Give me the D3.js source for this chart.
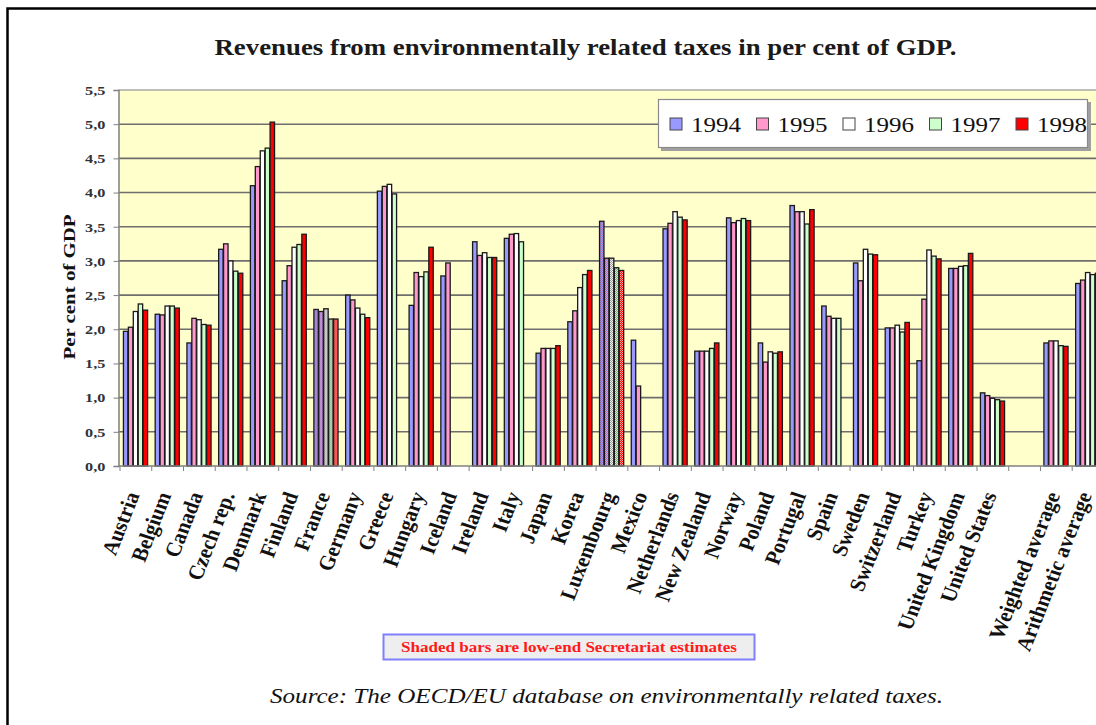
<!DOCTYPE html>
<html>
<head>
<meta charset="utf-8">
<script src="https://cdn.jsdelivr.net/npm/d3@7/dist/d3.min.js"></script>
<style>
  html, body { margin: 0; padding: 0; background: #ffffff; }
  svg { display: block; }
  text { font-family: "Liberation Serif", "Times New Roman", serif; }
</style>
</head>
<body>
<svg id="chart" width="1096" height="725"></svg>
<script>
// ---- data ----
const categories = ["Austria", "Belgium", "Canada", "Czech rep.", "Denmark", "Finland", "France",
  "Germany", "Greece", "Hungary", "Iceland", "Ireland", "Italy", "Japan", "Korea", "Luxembourg",
  "Mexico", "Netherlands", "New Zealand", "Norway", "Poland", "Portugal", "Spain", "Sweden",
  "Switzerland", "Turkey", "United Kingdom", "United States", "", "Weighted average", "Arithmetic average"];

const years = ["1994", "1995", "1996", "1997", "1998"];

const v1994 = [1.97, 2.22, 1.80, 3.17, 4.10, 2.71, 2.29, 2.50, 4.02, 2.35, 2.78, 3.28, 3.33, 1.65, 2.11, 3.58,
  1.84, 3.47, 1.68, 3.63, 1.80, 3.81, 2.34, 2.97, 2.02, 1.54, 2.89, 1.07, null, 1.80, 2.67];
const v1995 = [2.03, 2.21, 2.16, 3.25, 4.38, 2.93, 2.26, 2.43, 4.09, 2.83, 2.97, 3.08, 3.39, 1.72, 2.27, 3.04,
  1.17, 3.55, 1.68, 3.56, 1.52, 3.72, 2.19, 2.71, 2.02, 2.44, 2.89, 1.03, null, 1.83, 2.72];
const v1996 = [2.26, 2.34, 2.14, 3.00, 4.61, 3.20, 2.30, 2.31, 4.12, 2.77, null, 3.12, 3.40, 1.72, 2.61, 3.04,
  null, 3.72, 1.68, 3.59, 1.67, 3.72, 2.16, 3.17, 2.06, 3.16, 2.92, 0.99, null, 1.83, 2.83];
const v1997 = [2.37, 2.34, 2.07, 2.85, 4.65, 3.24, 2.15, 2.22, 3.98, 2.84, null, 3.05, 3.28, 1.72, 2.80, 2.90,
  null, 3.64, 1.72, 3.62, 1.65, 3.54, 2.16, 3.10, 1.96, 3.07, 2.93, 0.97, null, 1.76, 2.80];
const v1998 = [2.28, 2.31, 2.06, 2.82, 5.03, 3.39, 2.15, 2.17, null, 3.20, null, 3.05, null, 1.76, 2.86, 2.86,
  null, 3.60, 1.80, 3.59, 1.67, 3.75, null, 3.09, 2.10, 3.03, 3.11, 0.95, null, 1.75, 2.82];

const seriesValues = [v1994, v1995, v1996, v1997, v1998];
const seriesColors = ["#9999ff", "#ff99cc", "#ffffff", "#ccffcc", "#ff0000"];
const shadeDotColors = ["#b070b0", "#8080e0", "#909090", "#7f9a7f", "#ffaaaa"];

// countries whose bars are low-end estimates (drawn shaded)
const shadedCategories = ["France", "Luxembourg"];

const yTickValues = [0, 0.5, 1, 1.5, 2, 2.5, 3, 3.5, 4, 4.5, 5, 5.5];

const titleText = "Revenues from environmentally related taxes in per cent of GDP.";
const yTitleText = "Per cent of GDP";
const noteText = "Shaded bars are low-end Secretariat estimates";
const sourceText = "Source: The OECD/EU database on environmentally related taxes.";

// ---- layout ----
const serif = "Liberation Serif";
const plotLeft = 118.5, plotTop = 90, plotBottom = 466;
const bandStep = 31.74;
const plotRight = plotLeft + 1.5 + categories.length * bandStep;

const svg = d3.select("#chart");
const defs = svg.append("defs");

// dotted fills for the estimated bars
seriesColors.forEach((c, i) => {
  const p = defs.append("pattern")
    .attr("id", "shade" + i)
    .attr("patternUnits", "userSpaceOnUse")
    .attr("width", 2).attr("height", 2);
  p.append("rect").attr("width", 2).attr("height", 2).attr("fill", c);
  p.append("rect").attr("x", 0).attr("y", 0).attr("width", 1).attr("height", 1).attr("fill", shadeDotColors[i]);
  p.append("rect").attr("x", 1).attr("y", 1).attr("width", 1).attr("height", 1).attr("fill", shadeDotColors[i]);
});

// outer frame
svg.append("rect")
  .attr("x", 7.5).attr("y", 8.5)
  .attr("width", 1120).attr("height", 740)
  .attr("fill", "none").attr("stroke", "#000").attr("stroke-width", 2.5);

// scales
const x0 = d3.scaleBand().domain(categories).range([plotLeft + 1.5, plotLeft + 1.5 + categories.length * bandStep]).padding(0);
const x1 = d3.scaleBand().domain(years).range([0, x0.bandwidth()]).paddingInner(0).paddingOuter(0.72).align(0.4);
const y = d3.scaleLinear().domain([0, 5.5]).range([plotBottom, plotTop]);

// plot background
svg.append("rect")
  .attr("x", plotLeft).attr("y", plotTop)
  .attr("width", plotRight - plotLeft).attr("height", plotBottom - plotTop)
  .attr("fill", "#ffffcc");

// horizontal gridlines
svg.append("g")
  .selectAll("line")
  .data(yTickValues.filter(d => d > 0))
  .join("line")
  .attr("x1", plotLeft).attr("x2", plotRight)
  .attr("y1", d => y(d)).attr("y2", d => y(d))
  .attr("stroke", d => d === 5.5 ? "#a8a8a8" : "#6e6e6e")
  .attr("stroke-width", 1.6);

// bars
const groups = svg.append("g")
  .selectAll("g")
  .data(categories)
  .join("g")
  .attr("transform", c => `translate(${x0(c)},0)`);

groups.selectAll("rect")
  .data((c, ci) => years.map((yr, si) => ({ cat: c, year: yr, si, value: seriesValues[si][ci] }))
    .filter(d => d.value !== null))
  .join("rect")
  .attr("x", d => x1(d.year) + 0.6)
  .attr("y", d => y(d.value))
  .attr("width", x1.bandwidth() - 0.5)
  .attr("height", d => y(0) - y(d.value))
  .attr("fill", d => shadedCategories.includes(d.cat) ? `url(#shade${d.si})` : seriesColors[d.si])
  .attr("stroke", "#1a1a1a")
  .attr("stroke-width", 1.3);

// y axis
const fmt = d => d3.format(".1f")(d).replace(".", ",");
const yAxis = svg.append("g")
  .attr("transform", `translate(${plotLeft},0)`)
  .call(d3.axisLeft(y).tickValues(yTickValues).tickFormat(fmt).tickSize(5).tickPadding(6));
yAxis.select(".domain").attr("stroke", "#808080").attr("stroke-width", 1.5);
yAxis.selectAll(".tick line").attr("stroke", "#808080");
yAxis.selectAll(".tick text")
  .attr("font-family", serif)
  .attr("font-size", 13.5)
  .attr("font-weight", "bold")
  .attr("fill", "#333")
  .attr("transform", "scale(1.2,1)");

// x axis line and boundary ticks
svg.append("line")
  .attr("x1", plotLeft).attr("x2", plotRight)
  .attr("y1", plotBottom).attr("y2", plotBottom)
  .attr("stroke", "#808080").attr("stroke-width", 1.5);
svg.append("g")
  .selectAll("line")
  .data(categories)
  .join("line")
  .attr("x1", c => x0(c)).attr("x2", c => x0(c))
  .attr("y1", plotBottom).attr("y2", plotBottom + 5)
  .attr("stroke", "#808080");

// category labels
svg.append("g")
  .selectAll("text")
  .data(categories)
  .join("text")
  .attr("transform", c => `translate(${x0(c) + x0.bandwidth() / 2 + 4},${plotBottom + 29}) scale(1.2,1.1) rotate(-70)`)
  .attr("text-anchor", "end")
  .attr("font-family", serif)
  .attr("font-size", 18.5)
  .attr("font-weight", "bold")
  .attr("fill", "#111")
  .text(c => c);

// y axis title
svg.append("text")
  .attr("transform", "translate(75,287) rotate(-90)")
  .attr("text-anchor", "middle")
  .attr("font-family", serif)
  .attr("font-size", 17)
  .attr("font-weight", "bold")
  .attr("textLength", 145)
  .attr("lengthAdjust", "spacingAndGlyphs")
  .attr("fill", "#111")
  .text(yTitleText);

// title
svg.append("text")
  .attr("x", 585.5).attr("y", 55)
  .attr("text-anchor", "middle")
  .attr("font-family", serif)
  .attr("font-size", 23)
  .attr("font-weight", "bold")
  .attr("textLength", 742)
  .attr("lengthAdjust", "spacingAndGlyphs")
  .attr("fill", "#1a1a1a")
  .text(titleText);

// legend
const legend = svg.append("g");
legend.append("rect")
  .attr("x", 661).attr("y", 102).attr("width", 430).attr("height", 49)
  .attr("fill", "#a0a0a0");
legend.append("rect")
  .attr("x", 658.5).attr("y", 99.5).attr("width", 429).attr("height", 48)
  .attr("fill", "#ffffff").attr("stroke", "#8a8a8a").attr("stroke-width", 1.2);
const legendItems = legend.selectAll("g.item")
  .data(years)
  .join("g")
  .attr("class", "item")
  .attr("transform", (d, i) => `translate(${670 + i * 86.5},118)`);
legendItems.append("rect")
  .attr("width", 12).attr("height", 12)
  .attr("fill", (d, i) => seriesColors[i])
  .attr("stroke", "#444").attr("stroke-width", 1);
legendItems.append("text")
  .attr("transform", "translate(21,14) scale(1.25,1)")
  .attr("font-family", serif)
  .attr("font-size", 20)
  .attr("fill", "#111")
  .text(d => d);

// note box
svg.append("rect")
  .attr("x", 383.5).attr("y", 634.5).attr("width", 371).attr("height", 25)
  .attr("fill", "#eeeeee").attr("stroke", "#8080ff").attr("stroke-width", 2);
svg.append("text")
  .attr("x", 569).attr("y", 652)
  .attr("text-anchor", "middle")
  .attr("font-family", serif)
  .attr("font-size", 14)
  .attr("font-weight", "bold")
  .attr("textLength", 336)
  .attr("lengthAdjust", "spacingAndGlyphs")
  .attr("fill", "#ff1a1a")
  .text(noteText);

// source line
svg.append("text")
  .attr("x", 606.5).attr("y", 703)
  .attr("text-anchor", "middle")
  .attr("font-family", serif)
  .attr("font-size", 21)
  .attr("font-style", "italic")
  .attr("textLength", 673)
  .attr("lengthAdjust", "spacingAndGlyphs")
  .attr("fill", "#111")
  .text(sourceText);
</script>
</body>
</html>
